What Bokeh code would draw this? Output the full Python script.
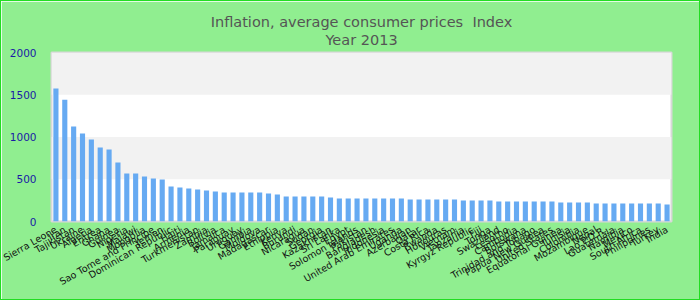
import math
from bokeh.plotting import figure
from bokeh.models import Title, FixedTicker, Range1d
from bokeh.embed import file_html
from bokeh.resources import INLINE

countries = ["Sierra Leone", "Iran", "Tajikistan", "Ukraine", "Algeria", "Eritrea", "Ghana",
             "Guinea", "Nigeria", "Malawi", "Mongolia", "Sao Tome and Principe", "Yemen",
             "Dominican Republic", "Haiti", "Armenia", "Turkmenistan", "Zambia", "Bolivia",
             "Jamaica", "Paraguay", "Uruguay", "Gambia", "Moldova", "Madagascar", "Ethiopia",
             "Kenya", "Burundi", "Nicaragua", "Sudan", "Georgia", "Kazakhstan", "Sri Lanka",
             "Egypt", "Solomon Islands", "Pakistan", "Bangladesh", "Indonesia",
             "United Arab Emirates", "Uganda", "Azerbaijan", "Qatar", "Costa Rica", "Rwanda",
             "Honduras", "Vietnam", "Tanzania", "Kyrgyz Republic", "Fiji", "Tonga", "Swaziland",
             "Lesotho", "Cambodia", "Botswana", "Trinidad and Tobago", "Papua New Guinea",
             "United States", "Equatorial Guinea", "Tunisia", "Colombia", "Mozambique", "Nepal",
             "Lao P.D.R.", "Guatemala", "Namibia", "Mexico", "South Africa", "Philippines",
             "Turkey", "India"]
values = [1575, 1442, 1123, 1040, 969, 875, 851, 697, 567, 567, 532, 508, 496,
          414, 402, 390, 378, 366, 355, 343, 343, 343, 343, 343, 331, 319,
          296, 296, 296, 296, 296, 284, 272, 272, 272, 272, 272, 272, 272, 272,
          260, 260, 260, 260, 260, 260, 248, 248, 248, 248,
          236, 236, 236, 236, 236, 236, 236, 225, 225, 225, 225,
          213, 213, 213, 213, 213, 213, 213, 213, 201]
y_ticks = [0, 500, 1000, 1500, 2000]
title_line1 = "Inflation, average consumer prices\u00a0 Index"
title_line2 = "Year 2013"

p = figure(width=700, height=300, x_range=countries, y_range=Range1d(0, 2000),
           output_backend="svg", toolbar_location=None,
           min_border_left=50, min_border_right=30, min_border_top=51, min_border_bottom=80)
p.x_range.range_padding = 0

p.vbar(x=countries, top=values, width=0.58, color="#66aaf2", line_color=None)

p.background_fill_color = "white"
p.border_fill_color = "#90ee90"
p.outline_line_color = "#d8d8d8"
p.outline_line_width = 2

p.xgrid.grid_line_color = None
p.ygrid.grid_line_color = None
p.ygrid.band_fill_color = "#f2f2f2"
p.ygrid.band_fill_alpha = 1.0
p.yaxis.ticker = FixedTicker(ticks=y_ticks)

for ax in (p.xaxis, p.yaxis):
    ax.axis_line_color = None
    ax.major_tick_line_color = None
    ax.minor_tick_line_color = None

p.yaxis.major_label_text_color = "#1a1aa6"
p.yaxis.major_label_text_font = "DejaVu Sans"
p.yaxis.major_label_text_font_size = "10.5px"
p.yaxis.major_label_standoff = 9

p.xaxis.major_label_orientation = math.pi / 6
p.xaxis.major_label_text_font = "DejaVu Sans"
p.xaxis.major_label_text_font_size = "9.5px"
p.xaxis.major_label_text_color = "#111111"
p.xaxis.major_label_standoff = 1

# small spacer between the frame and the title lines
p.add_layout(Title(text="\u00a0", align="center", text_font_size="3px", standoff=0,
                   text_color="#90ee90"), "above")
p.add_layout(Title(text=title_line2, align="center", text_font="DejaVu Sans",
                   text_font_size="14.5px", text_font_style="normal", standoff=0,
                   text_color="#555555"), "above")
p.add_layout(Title(text=title_line1, align="center", text_font="DejaVu Sans",
                   text_font_size="14.5px", text_font_style="normal", standoff=0,
                   text_color="#555555"), "above")

p.styles = {"border": "1px solid #22dd22", "box-sizing": "border-box"}

open("out.html", "w").write(file_html(p, INLINE))
